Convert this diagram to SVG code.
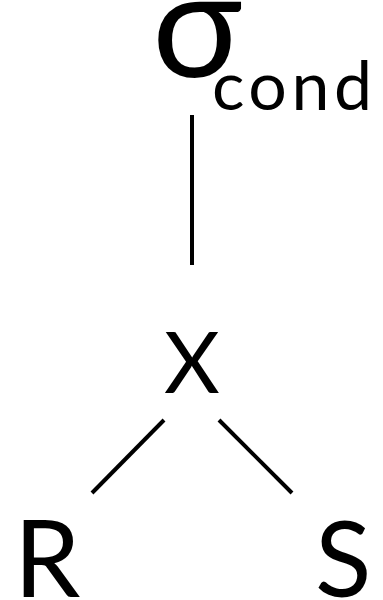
<svg xmlns="http://www.w3.org/2000/svg" width="383" height="600" viewBox="0 0 383 600">
<style>
text{font-family:Lato,"Open Sans",sans-serif;fill:#000}
.e{stroke:#000;stroke-width:4;fill:none}
</style>
<rect width="383" height="600" fill="#fff"/>
<g id="sigma"><text x="152" y="77" font-size="150">σ</text><text x="212" y="110" font-size="68" textLength="160" lengthAdjust="spacing">cond</text></g>
<g id="cross"><text x="192" y="393" font-size="86" text-anchor="middle">X</text></g>
<g id="R"><text x="14" y="597" font-size="106">R</text></g>
<g id="S"><text x="315" y="597" font-size="104">S</text></g>
<g id="edges">
<line class="e" x1="192" y1="115" x2="192" y2="265"/>
<line class="e" x1="164" y1="420" x2="92" y2="493"/>
<line class="e" x1="219" y1="420" x2="292" y2="493"/>
</g>
</svg>
